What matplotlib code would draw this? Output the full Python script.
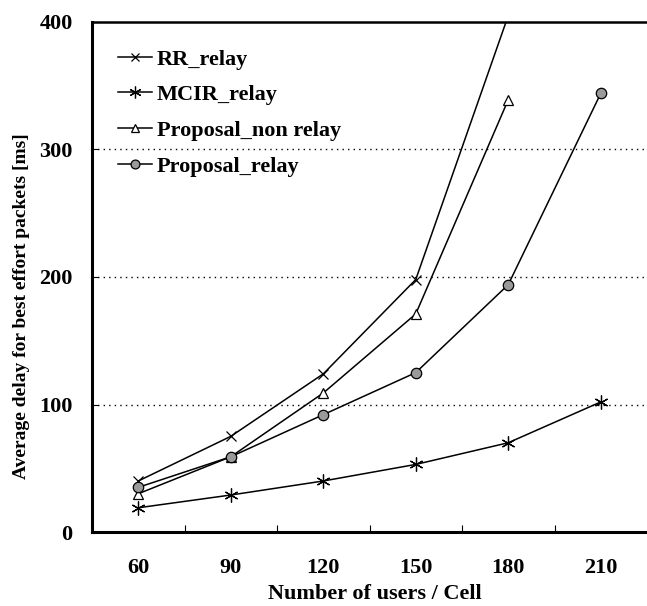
import numpy as np
import matplotlib
matplotlib.use("Agg")
import matplotlib.pyplot as plt

plt.rcParams['font.family'] = ['Liberation Serif', 'DejaVu Serif']
plt.rcParams['font.weight'] = 'bold'

# data
users = ["60", "90", "120", "150", "180", "210"]
rr_relay = [40, 75, 124, 198, 405, np.nan]
mcir_relay = [19, 29, 40, 53, 70, 102]
prop_non_relay = [30, 59, 109, 171, 339, np.nan]
prop_relay = [35, 59, 92, 125, 194, 344]

W, H = 647, 606
fig = plt.figure(figsize=(W / 100, H / 100), dpi=100)
ax = fig.add_axes([92 / W, 1 - 532 / H, 1 - 92 / W, (532 - 22) / H])

x = np.arange(len(users))
lw = 1.1
ax.plot(x, rr_relay, color='black', lw=lw, marker='x', ms=7, mew=0.9,
        label='RR_relay')
ax.plot(x, mcir_relay, color='black', lw=lw, marker=(6, 2, 0), ms=10, mew=0.9,
        label='MCIR_relay')
ax.plot(x, prop_non_relay, color='black', lw=lw, marker='^', ms=7.5, mew=0.9,
        mfc='white', label='Proposal_non relay')
ax.plot(x, prop_relay, color='black', lw=lw, marker='o', ms=7.5, mew=0.9,
        mfc='#9a9a9a', label='Proposal_relay')

ax.set_xlim(-0.5, len(users) - 0.5)
ax.set_ylim(0, 400)
ax.set_yticks([0, 100, 200, 300, 400])
ax.set_xticks(x)
ax.set_xticklabels(users)
ax.set_xticks(np.arange(0.5, len(users) - 1), minor=True)

for v in [100, 200, 300]:
    ax.axhline(v, color='black', lw=1.0, ls=(0, (1, 3)), zorder=0)

ax.tick_params(axis='y', direction='in', length=4, width=0.8, pad=14, labelsize=16)
ax.tick_params(axis='x', which='major', length=0, pad=19, labelsize=16)
ax.tick_params(axis='x', which='minor', direction='in', length=5, width=0.8)

for s in ['left', 'bottom']:
    ax.spines[s].set_linewidth(2.2)
ax.spines['top'].set_linewidth(1.8)
ax.spines['right'].set_visible(False)

fig.text(375 / W, 2 / H, 'Number of users / Cell', ha='center', va='bottom',
         fontsize=16, fontweight='bold')
fig.text(22 / W, 1 - 306 / H, 'Average delay for best effort packets [ms]',
         rotation=90, ha='center', va='center', fontsize=14, fontweight='bold')

ax.legend(loc='upper left', bbox_to_anchor=(118 / W, 1 - 49 / H),
          bbox_transform=fig.transFigure, frameon=False, fontsize=16,
          handlelength=1.55, handletextpad=0.2, labelspacing=0.68,
          borderpad=0, borderaxespad=0, markerscale=0.85)

fig.savefig('out.png', dpi=100)
